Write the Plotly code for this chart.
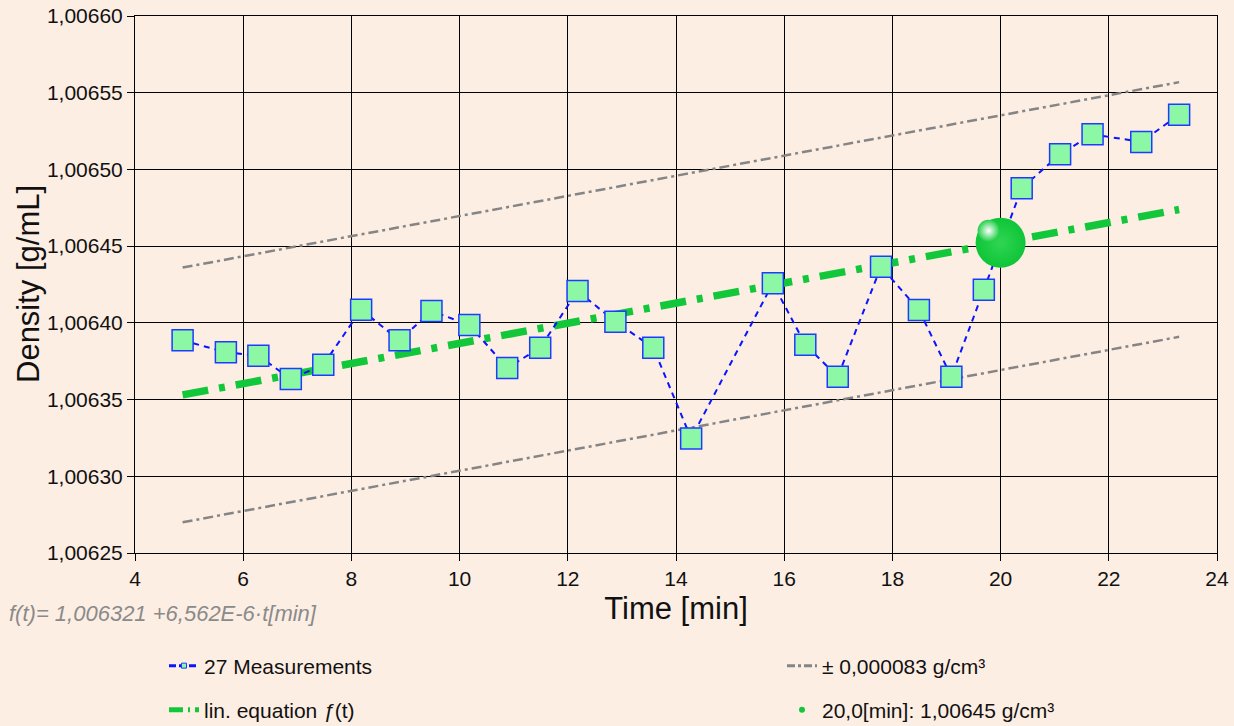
import plotly.graph_objects as go

# ---------------- data ----------------
time_min = [4.88, 5.68, 6.28, 6.88, 7.48, 8.18, 8.89, 9.48, 10.18, 10.88,
            11.49, 12.18, 12.88, 13.58, 14.28, 15.79, 16.39, 16.99, 17.79,
            18.49, 19.09, 19.69, 20.39, 21.10, 21.70, 22.60, 23.30]
density = [1.0063886, 1.0063808, 1.0063786, 1.0063634, 1.0063727, 1.0064086,
           1.0063886, 1.0064077, 1.0063986, 1.0063706, 1.0063838, 1.0064208,
           1.0064007, 1.0063838, 1.0063247, 1.0064258, 1.0063858, 1.0063649,
           1.0064366, 1.0064084, 1.0063649, 1.0064216, 1.0064877, 1.0065099,
           1.0065229, 1.0065179, 1.0065357]
fit_intercept = 1.006321
fit_slope = 6.562e-6
band = 0.000083
eval_time = 20.0

x_ticks = [4, 6, 8, 10, 12, 14, 16, 18, 20, 22, 24]
y_ticks = [1.00625, 1.00630, 1.00635, 1.00640, 1.00645, 1.00650, 1.00655, 1.00660]

# ---------------- layout constants ----------------
W, H = 1234, 726
ML, MR, MT, MB = 135, 17, 16, 173
XR = [4, 24]
YR = [1.00625, 1.00660]
PW = W - ML - MR
PH = H - MT - MB
BG = "#FDEEE4"
FONT = "Liberation Sans, Arial, sans-serif"
GREEN = "#12C83A"
BLUE = "#0A14FF"

fit_x = [time_min[0], time_min[-1]]
fit_y = [fit_intercept + fit_slope * t for t in fit_x]
up_y = [v + band for v in fit_y]
lo_y = [v - band for v in fit_y]
eval_y = fit_intercept + fit_slope * eval_time

fig = go.Figure()

gray_line = dict(color="#858585", width=2.5, dash="10px,4px,3px,4px")
fig.add_trace(go.Scatter(x=fit_x, y=up_y, mode="lines", line=gray_line,
                         showlegend=False, hoverinfo="skip"))
fig.add_trace(go.Scatter(x=fit_x, y=lo_y, mode="lines", line=gray_line,
                         showlegend=False, hoverinfo="skip"))
fig.add_trace(go.Scatter(x=fit_x, y=fit_y, mode="lines",
                         line=dict(color=GREEN, width=7.5, dash="26px,11px,6px,11px"),
                         showlegend=False, hoverinfo="skip"))
fig.add_trace(go.Scatter(x=time_min, y=density, mode="lines+markers",
                         line=dict(color=BLUE, width=2, dash="6px,5px"),
                         marker=dict(symbol="square", size=21, color="#8CF8A6",
                                     line=dict(color="#1E3CFF", width=1.5)),
                         showlegend=False))
# sphere at evaluation point
fig.add_trace(go.Scatter(x=[eval_time], y=[eval_y], mode="markers",
                         marker=dict(size=50, color="#0EC538",
                                     gradient=dict(type="radial", color="#30D552"),
                                     line=dict(width=0)),
                         showlegend=False, hoverinfo="skip"))
dx = -12 * (XR[1] - XR[0]) / PW
dy = 12 * (YR[1] - YR[0]) / PH
fig.add_trace(go.Scatter(x=[eval_time + dx], y=[eval_y + dy], mode="markers",
                         marker=dict(size=22, color="#22CF48",
                                     gradient=dict(type="radial", color="#FFFFFF"),
                                     line=dict(width=0)),
                         showlegend=False, hoverinfo="skip"))

# legend-only entries
fig.add_trace(go.Scatter(x=[None], y=[None], mode="lines+markers", name="27 Measurements",
                         line=dict(color=BLUE, width=3, dash="7px,3px"),
                         marker=dict(symbol="square", size=5, color="#8CF8A6",
                                     line=dict(color="#1E3CFF", width=1)),
                         legend="legend"))
fig.add_trace(go.Scatter(x=[None], y=[None], mode="lines", name="lin. equation <i>ƒ</i>(t)",
                         line=dict(color=GREEN, width=5, dash="14px,5px,2px,5px"),
                         legend="legend2"))
fig.add_trace(go.Scatter(x=[None], y=[None], mode="lines", name="± 0,000083 g/cm³",
                         line=dict(color="#858585", width=3, dash="8px,3px,3px,3px"),
                         legend="legend3"))
fig.add_trace(go.Scatter(x=[None], y=[None], mode="markers", name="20,0[min]: 1,00645 g/cm³",
                         marker=dict(size=6, color=GREEN),
                         legend="legend4"))

def leg(xpx, ypx):
    return dict(x=xpx / W, y=1 - ypx / H, xref="container", yref="container",
                xanchor="left", yanchor="middle", bgcolor="rgba(0,0,0,0)",
                font=dict(family=FONT, size=21, color="#111"),
                borderwidth=0)

axis_common = dict(showgrid=True, gridcolor="#000", gridwidth=1, zeroline=False,
                   showline=True, linecolor="#000", linewidth=1, mirror=True,
                   ticks="outside", ticklen=7, tickcolor="#000", automargin=False,
                   tickfont=dict(family=FONT, size=21, color="#111"))

fig.update_layout(
    width=W, height=H,
    margin=dict(l=ML, r=MR, t=MT, b=MB, autoexpand=False),
    paper_bgcolor=BG, plot_bgcolor=BG,
    separators=", ",
    font=dict(family=FONT, color="#111"),
    xaxis=dict(range=XR, tickvals=x_ticks, tickformat="d",
               title=dict(text="Time [min]", font=dict(family=FONT, size=31, color="#111"),
                          standoff=8),
               **axis_common),
    yaxis=dict(range=YR, tickvals=y_ticks, tickformat=".5f", **axis_common),
    legend=leg(164, 666),
    legend2=leg(164, 710),
    legend3=leg(782, 666),
    legend4=leg(782, 710),
    annotations=[
        dict(text="<i>f(t)= 1,006321 +6,562E-6·t[min]</i>",
             xref="paper", yref="paper",
             x=(7 - ML) / PW, y=(MT + PH - 613) / PH,
             xanchor="left", yanchor="middle", showarrow=False,
             font=dict(family=FONT, size=22, color="#8A8A8A")),
        dict(text="Density [g/mL]", textangle=-90,
             xref="paper", yref="paper",
             x=(28 - ML) / PW, y=(MT + PH - 284) / PH,
             xanchor="center", yanchor="middle", showarrow=False,
             font=dict(family=FONT, size=31, color="#111")),
    ],
)

fig.write_html("out.html")
